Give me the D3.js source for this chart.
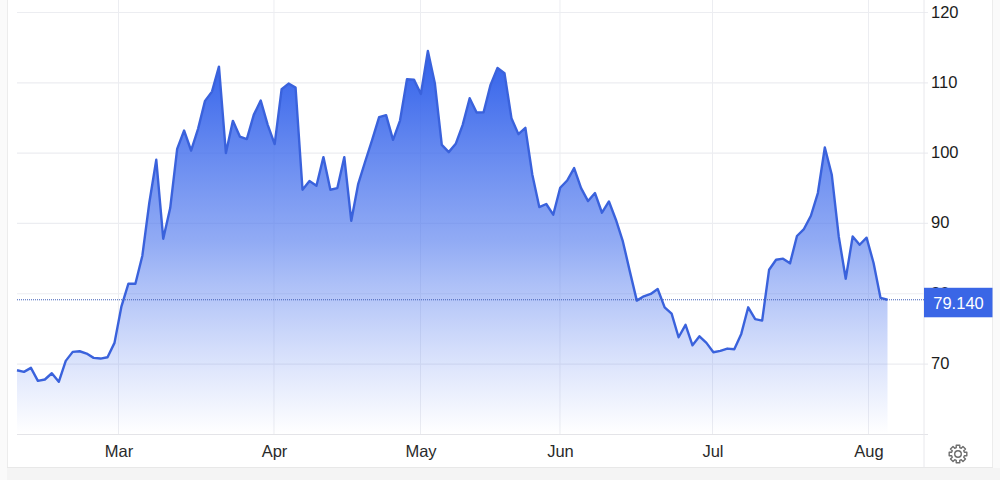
<!DOCTYPE html>
<html><head><meta charset="utf-8">
<script src="https://cdn.jsdelivr.net/npm/d3@7/dist/d3.min.js"></script>
<style>html,body{margin:0;padding:0;background:#fff;overflow:hidden}svg{display:block}text{font-family:"Liberation Sans",Arial,sans-serif}</style>
</head><body><svg id="c" width="1000" height="480"></svg>
<script>
const prices=[69.12,68.89,69.46,67.61,67.8,68.69,67.47,70.45,71.73,71.82,71.49,70.88,70.78,70.97,73.01,78.21,81.43,81.43,85.41,92.94,99.05,87.83,92.19,100.61,103.21,100.37,103.45,107.43,108.75,112.3,100,104.59,102.36,101.99,105.44,107.47,104.02,101.28,109.09,109.89,109.32,94.79,96.02,95.36,99.43,94.79,95.03,99.43,90.38,95.64,98.81,101.89,105.11,105.4,101.89,104.63,110.51,110.45,108.42,114.53,109.94,101.18,100.14,101.32,104.02,107.81,105.77,105.82,109.7,112.12,111.36,104.97,102.7,103.59,96.92,92.33,92.76,91.24,95.07,96.11,97.87,95.03,93.18,94.32,91.52,93.12,90.53,87.44,83.18,79.02,79.63,79.97,80.68,78.07,77.17,73.81,75.57,72.67,73.95,73.01,71.68,71.87,72.2,72.1,74.29,78.07,76.39,76.18,83.42,84.84,84.99,84.32,88.21,89.2,91.09,94.32,100.8,96.92,88.15,82.14,88.15,86.97,87.97,84.37,79.4,79.14];
const monthLabels=["Mar","Apr","May","Jun","Jul","Aug"];
const monthIndex=[14.57,36.9,57.94,77.97,99.87,122.27];
const priceTicks=[70,80,90,100,110,120];
const lastLabel="79.140";

const svg=d3.select("#c");
const x=d3.scaleLinear().domain([0,prices.length-1]).range([17,887.5]);
const y=d3.scaleLinear().domain([60.05,120]).range([434,12.5]);
const grid="#ecedf1", blue="#3a62dc";

const defs=svg.append("defs");
const g=defs.append("linearGradient").attr("id","fade").attr("gradientUnits","userSpaceOnUse")
  .attr("x1",0).attr("x2",0).attr("y1",y(d3.max(prices))).attr("y2",434);
g.append("stop").attr("offset",0).attr("stop-color","#2f5fea").attr("stop-opacity",1);
g.append("stop").attr("offset",.5).attr("stop-color","#4f78ee").attr("stop-opacity",.62);
g.append("stop").attr("offset",1).attr("stop-color","#6f8ff2").attr("stop-opacity",0);

// page frame
svg.append("rect").attr("x",0).attr("y",0).attr("width",7).attr("height",480).attr("fill","#fafafa");
svg.append("rect").attr("x",992).attr("y",0).attr("width",8).attr("height",480).attr("fill","#fafafa");
svg.append("line").attr("x1",7.5).attr("x2",7.5).attr("y1",0).attr("y2",468).attr("stroke","#ececec");
svg.append("line").attr("x1",992.5).attr("x2",992.5).attr("y1",0).attr("y2",468).attr("stroke","#ececec");
svg.append("rect").attr("x",7).attr("y",468).attr("width",993).attr("height",12).attr("fill","#f4f4f4");
svg.append("line").attr("x1",7).attr("x2",993).attr("y1",467.5).attr("y2",467.5).attr("stroke","#e8e8e8");

// grid
svg.append("g").selectAll("line").data(priceTicks).join("line")
  .attr("x1",17).attr("x2",928).attr("y1",d=>y(d)).attr("y2",d=>y(d)).attr("stroke",grid).attr("stroke-width",1.2);
svg.append("g").selectAll("line").data(monthIndex).join("line")
  .attr("x1",d=>x(d)).attr("x2",d=>x(d)).attr("y1",0).attr("y2",434).attr("stroke",grid);
svg.append("line").attr("x1",17).attr("x2",928).attr("y1",434.5).attr("y2",434.5).attr("stroke","#e4e4e8").attr("stroke-width",1.2);
svg.append("line").attr("x1",924).attr("x2",924).attr("y1",0).attr("y2",468).attr("stroke","#e8e8ec");

// area + line
const idx=d3.range(prices.length);
svg.append("path").attr("fill","url(#fade)")
  .attr("d",d3.area().x(i=>x(i)).y0(434).y1(i=>y(prices[i]))(idx));
svg.append("path").attr("fill","none").attr("stroke",blue).attr("stroke-width",2.4).attr("stroke-linejoin","round")
  .attr("d",d3.line().x(i=>x(i)).y(i=>y(prices[i]))(idx));

// last-price marker
const last=prices[prices.length-1];
svg.append("line").attr("x1",17).attr("x2",924).attr("y1",y(last)).attr("y2",y(last))
  .attr("stroke","#3f5fb8").attr("stroke-dasharray","1 1").attr("stroke-width",1);

// y labels
svg.append("g").selectAll("text").data(priceTicks).join("text")
  .attr("x",931).attr("y",d=>y(d)+5).attr("font-size",16.5).attr("fill","#1c1c1c").text(d=>d);
svg.append("rect").attr("x",924).attr("y",y(last)-12).attr("width",68.5).attr("height",29.5).attr("fill","#3a66e6");
svg.append("text").attr("x",958.5).attr("y",y(last)+9).attr("text-anchor","middle").attr("font-size",16.5).attr("fill","#fff").text(lastLabel);

// x labels
svg.append("g").selectAll("text").data(monthLabels).join("text")
  .attr("x",(d,i)=>x(monthIndex[i])+.5).attr("y",457).attr("text-anchor","middle").attr("font-size",16.5).attr("fill","#2a2a2a").text(d=>d);

// settings gear
const gear=[];
for(let k=0;k<8;k++){const a=k*Math.PI/4;
  [[-.27,6.6],[-.2,9],[.2,9],[.27,6.6]].forEach(p=>gear.push([a+p[0],p[1]]));}
const gearG=svg.append("g").attr("transform","translate(958,454)").attr("fill","none").attr("stroke","#6e6e6e").attr("stroke-width",1.4);
gearG.append("path").attr("d",d3.lineRadial().curve(d3.curveLinearClosed)(gear)).attr("stroke-linejoin","round");
gearG.append("circle").attr("r",3.3);
</script></body></html>
